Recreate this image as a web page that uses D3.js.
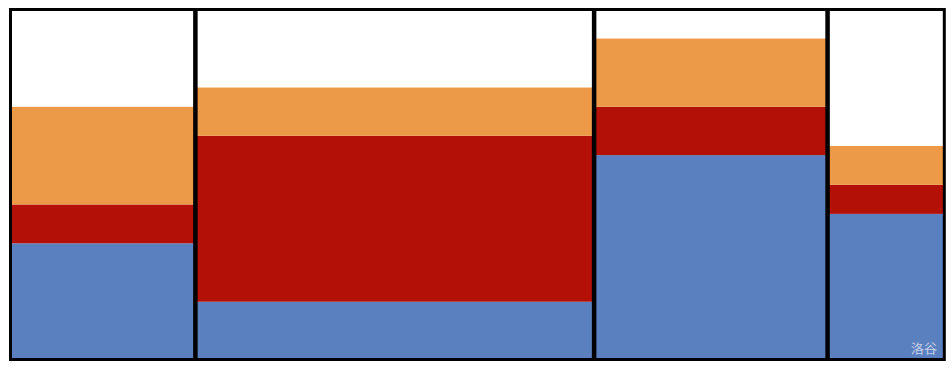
<!DOCTYPE html>
<html>
<head>
<meta charset="utf-8">
<script src="https://cdn.jsdelivr.net/npm/d3@7"></script>
<style>
  html, body { margin: 0; padding: 0; background: #fff; }
  svg { display: block; }
</style>
</head>
<body>
<svg id="chart" width="952" height="369"></svg>
<script>
// Column widths (share of total, %)
const categories = ["A", "B", "C", "D"];
const widths = [19.8, 42.7, 25.0, 12.5];
// Stacked series values (% of full height), bottom to top
const seriesNames = ["blue", "red", "orange"];
const blueValues = [33.2, 16.5, 58.4, 41.6];
const redValues = [11.1, 47.4, 13.8, 8.3];
const orangeValues = [27.9, 13.8, 19.5, 11.1];
const colors = ["#5b80bf", "#b31108", "#ec9a47"];
const watermark = "洛谷";

const svg = d3.select("#chart");
const plotLeft = 10.5, plotRight = 944.3, plotTop = 9.5, plotBottom = 359.5;

const x = d3.scaleLinear().domain([0, 100]).range([plotLeft, plotRight]);
const y = d3.scaleLinear().domain([0, 100]).range([plotBottom, plotTop]);

const starts = [];
let acc = 0;
widths.forEach(w => { starts.push(acc); acc += w; });

const rows = categories.map((c, i) => ({
  cat: c, x0: starts[i], x1: starts[i] + widths[i],
  blue: blueValues[i], red: redValues[i], orange: orangeValues[i]
}));

const stack = d3.stack().keys(seriesNames)(rows);

svg.append("g").selectAll("g")
  .data(stack)
  .join("g")
  .attr("fill", (d, i) => colors[i])
  .selectAll("rect")
  .data(d => d)
  .join("rect")
  .attr("x", d => x(d.data.x0))
  .attr("width", d => x(d.data.x1) - x(d.data.x0))
  .attr("y", d => y(d[1]))
  .attr("height", d => y(d[0]) - y(d[1]));

// Outer frame
svg.append("rect")
  .attr("x", x(0)).attr("y", y(100))
  .attr("width", x(100) - x(0)).attr("height", y(0) - y(100))
  .attr("fill", "none").attr("stroke", "#000").attr("stroke-width", 3);

// Column dividers
svg.append("g").selectAll("line")
  .data(starts.slice(1))
  .join("line")
  .attr("x1", d => x(d)).attr("x2", d => x(d))
  .attr("y1", y(100)).attr("y2", y(0))
  .attr("stroke", "#000").attr("stroke-width", 4.5);

// Watermark
svg.append("text")
  .attr("x", 937).attr("y", 352.5)
  .attr("text-anchor", "end")
  .attr("font-family", "'Noto Sans CJK SC', sans-serif")
  .attr("font-size", 13)
  .attr("fill", "rgba(255,255,255,0.65)")
  .text(watermark);
</script>
</body>
</html>
